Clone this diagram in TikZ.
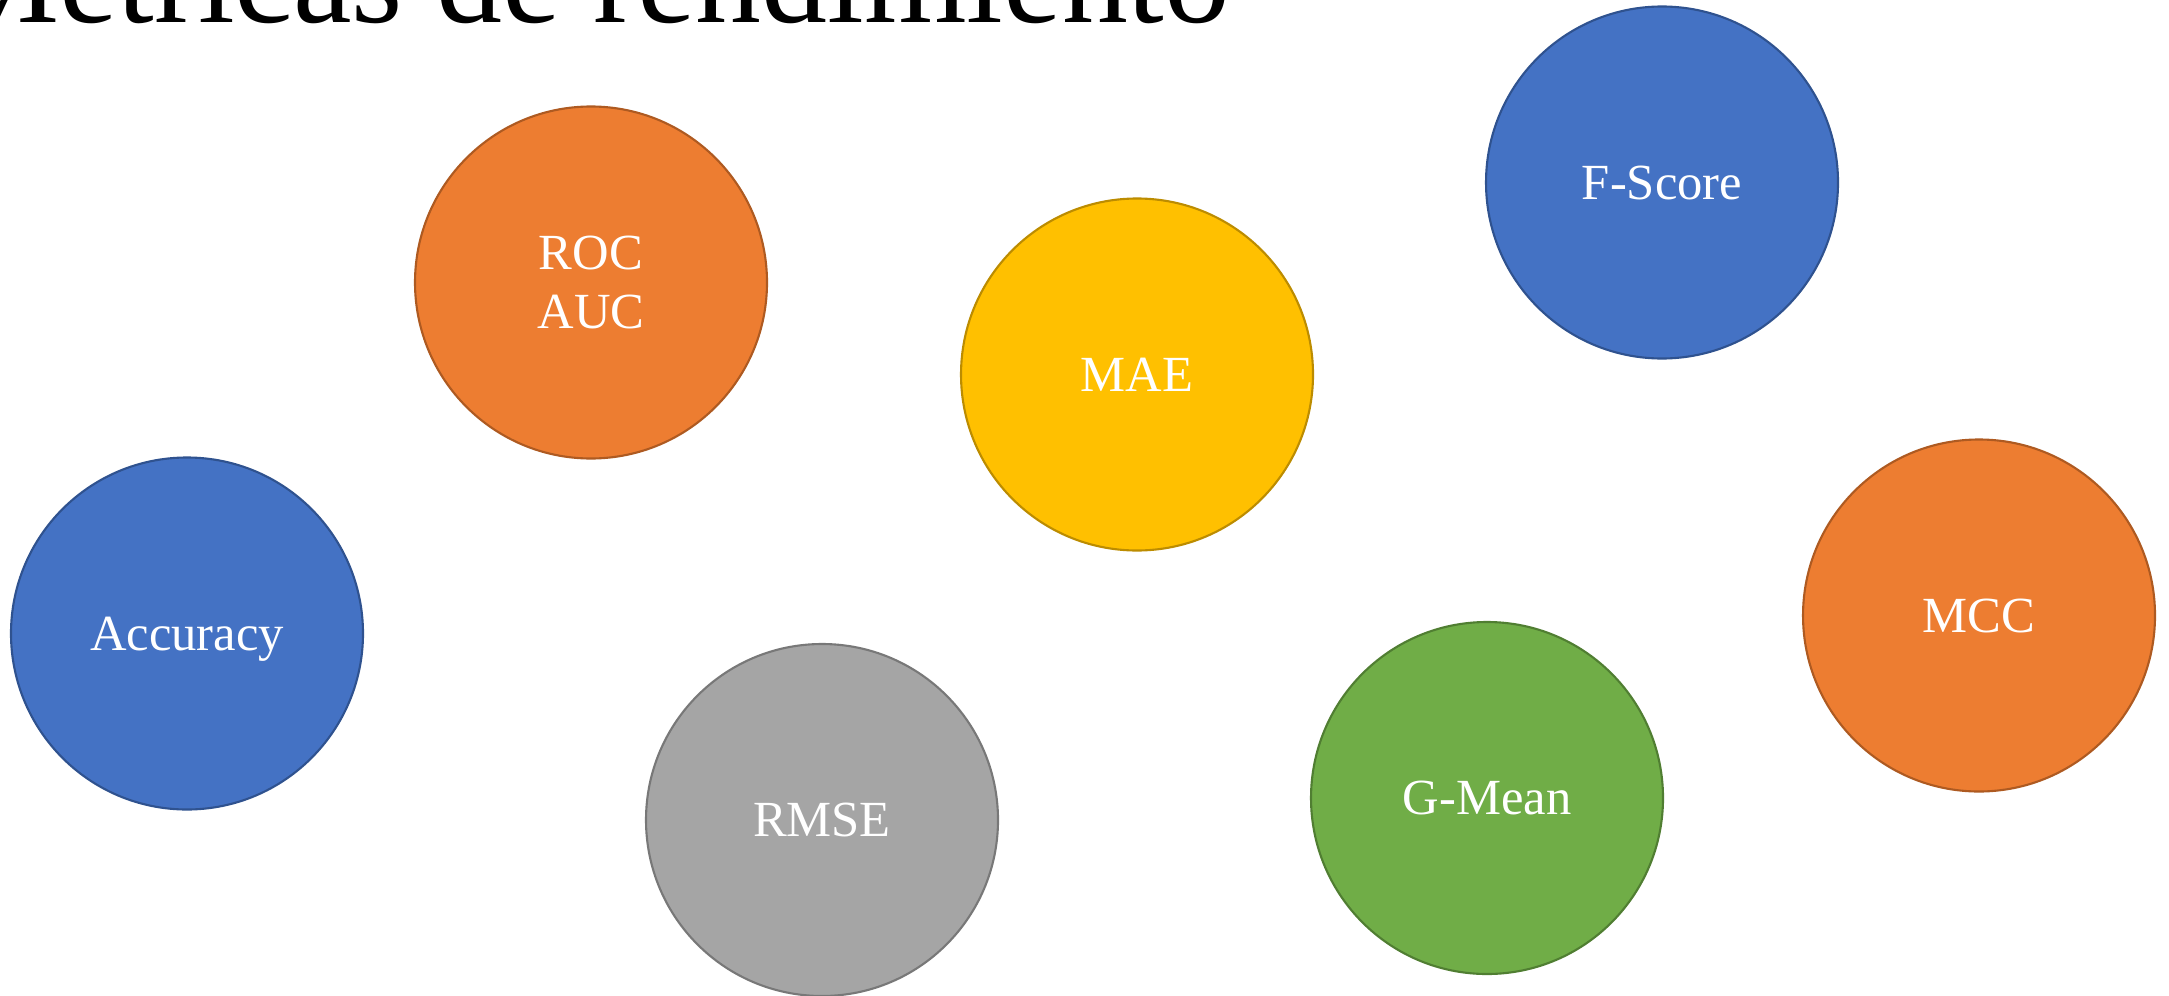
\documentclass[tikz,border=0pt]{standalone}
\usepackage{fontspec}
\setmainfont{Liberation Serif}
\usetikzlibrary{positioning}
\definecolor{mblue}{HTML}{4472C4}
\definecolor{mblueline}{HTML}{2F528F}
\definecolor{morange}{HTML}{ED7D31}
\definecolor{morangeline}{HTML}{AE5A21}
\definecolor{myellow}{HTML}{FFC000}
\definecolor{myellowline}{HTML}{BC8C00}
\definecolor{mgray}{HTML}{A5A5A5}
\definecolor{mgrayline}{HTML}{787878}
\definecolor{mgreen}{HTML}{70AD47}
\definecolor{mgreenline}{HTML}{507E32}
\begin{document}
\begin{tikzpicture}[every node/.style={font=\fontsize{14.4}{16.6}\selectfont},
  metric/.style={circle,minimum size=3.52cm,inner sep=0pt,line width=.6pt,text=white,align=center}]
\useasboundingbox (0,0) rectangle (21.69,9.95);
\fill[white] (0,0) rectangle (21.69,9.95);
% title, cut at the top edge
\node[anchor=base east,inner sep=0pt,font=\fontsize{37.5}{45}\selectfont] (title) at (12.31,9.72) {Métricas de rendimiento};
% metrics
\node[metric,fill=mblue,draw=mblueline,text depth=0pt] (acc) at (1.87,3.615) {Accuracy};
\node[metric,fill=morange,draw=morangeline] (roc) at (5.91,7.125) {ROC\\AUC};
\node[metric,fill=myellow,draw=myellowline] (mae) at (11.37,6.205) {MAE};
\node[metric,fill=mblue,draw=mblueline] (fscore) at (16.62,8.125) {F-Score};
\node[metric,fill=morange,draw=morangeline] (mcc) at (19.79,3.795) {MCC};
\node[metric,fill=mgreen,draw=mgreenline] (gmean) at (14.87,1.97) {G-Mean};
\node[metric,fill=mgray,draw=mgrayline] (rmse) at (8.22,1.75) {RMSE};
\end{tikzpicture}
\end{document}
